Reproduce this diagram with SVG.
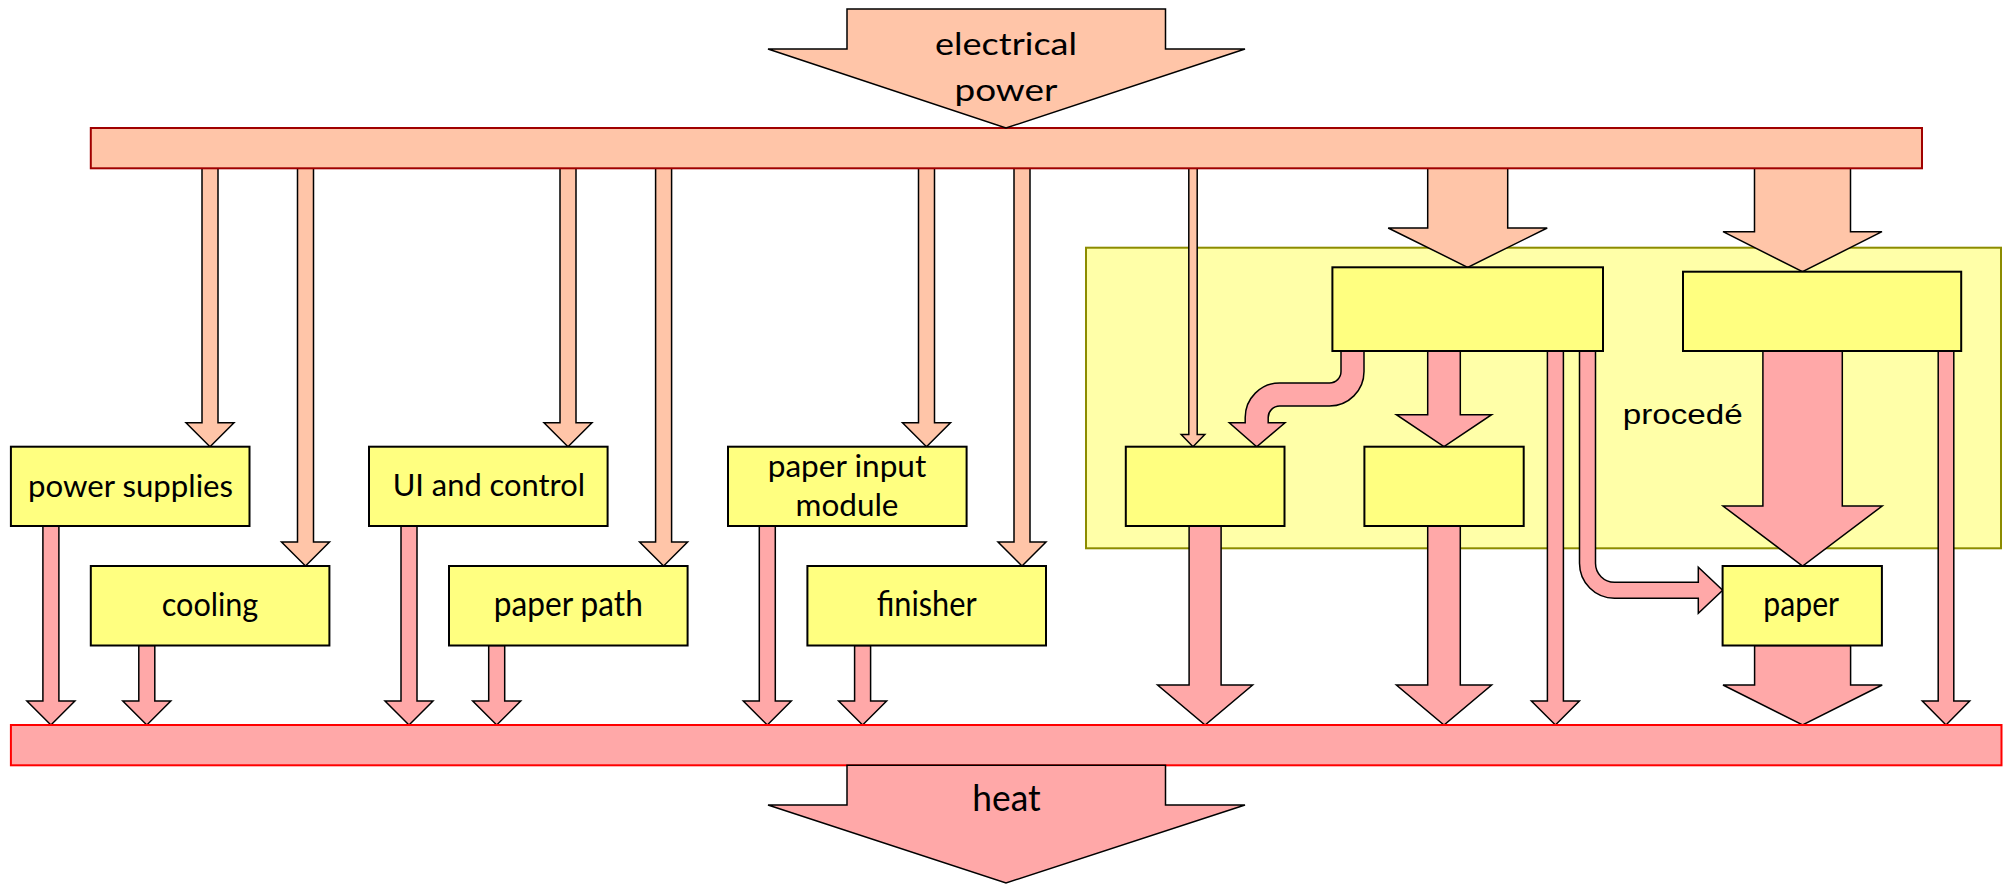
<svg xmlns="http://www.w3.org/2000/svg" width="2006" height="885" viewBox="0 0 2006 885">
<style>
.peach{fill:#FFC5A8;stroke:#000;stroke-width:1.5;stroke-linejoin:miter}
.pink{fill:#FFA8A8;stroke:#000;stroke-width:1.5;stroke-linejoin:miter}
.box{fill:#FFFF80;stroke:#000;stroke-width:2}
.lbl{font-family:Lato,"Open Sans","Liberation Sans",sans-serif;font-size:30px;text-anchor:middle;fill:#000}
.big{font-size:34px}
.lbl2{font-family:"Liberation Sans",Arial,sans-serif;font-size:27.5px;text-anchor:middle;fill:#000}
</style>
<rect width="2006" height="885" fill="#fff"/>
<g id="procede">
<rect x="1086" y="247.7" width="915" height="300.6" fill="#FFFFA8" stroke="#8C8C00" stroke-width="2"/>
<text class="lbl2" x="1682.7" y="424" textLength="120" lengthAdjust="spacingAndGlyphs">procedé</text>
</g>
<g id="connectors">
<polygon class="peach" points="202,168 202,422.7 186,422.7 210,446.7 234,422.7 218,422.7 218,168"/>
<polygon class="peach" points="297.5,168 297.5,542 281.5,542 305.5,566 329.5,542 313.5,542 313.5,168"/>
<polygon class="peach" points="560,168 560,422.7 544,422.7 568,446.7 592,422.7 576,422.7 576,168"/>
<polygon class="peach" points="655.6,168 655.6,542 639.6,542 663.6,566 687.6,542 671.6,542 671.6,168"/>
<polygon class="peach" points="918.5,168 918.5,422.7 902.5,422.7 926.5,446.7 950.5,422.7 934.5,422.7 934.5,168"/>
<polygon class="peach" points="1014,168 1014,542 998,542 1022,566 1046,542 1030,542 1030,168"/>
<polygon class="peach" points="1188.8,168 1188.8,434.5 1181.2,434.5 1193,446.7 1204.8,434.5 1197.2,434.5 1197.2,168"/>
<polygon class="peach" points="1427.7,168 1427.7,228 1388.2,228 1467.7,267.3 1547.2,228 1507.7,228 1507.7,168"/>
<polygon class="peach" points="1754.5,168 1754.5,231.7 1723,231.7 1802.5,271.7 1882,231.7 1850.5,231.7 1850.5,168"/>
<polygon class="pink" points="42.9,526 42.9,701 26.9,701 50.9,725 74.9,701 58.9,701 58.9,526"/>
<polygon class="pink" points="138.8,645.5 138.8,701 122.8,701 146.8,725 170.8,701 154.8,701 154.8,645.5"/>
<polygon class="pink" points="401,526 401,701 385,701 409,725 433,701 417,701 417,526"/>
<polygon class="pink" points="488.7,645.5 488.7,701 472.7,701 496.7,725 520.7,701 504.7,701 504.7,645.5"/>
<polygon class="pink" points="759.3,526 759.3,701 743.3,701 767.3,725 791.3,701 775.3,701 775.3,526"/>
<polygon class="pink" points="854.6,645.5 854.6,701 838.6,701 862.6,725 886.6,701 870.6,701 870.6,645.5"/>
<polygon class="pink" points="1189.1,526 1189.1,685 1157.6,685 1205.1,725 1252.6,685 1221.1,685 1221.1,526"/>
<polygon class="pink" points="1427.7,526 1427.7,685 1396.4,685 1444,725 1491.6,685 1460.3,685 1460.3,526"/>
<polygon class="pink" points="1547.4,351 1547.4,701 1531.4,701 1555.4,725 1579.4,701 1563.4,701 1563.4,351"/>
<polygon class="pink" points="1754.6,645.5 1754.6,685 1723,685 1802.6,725 1882.2,685 1850.6,685 1850.6,645.5"/>
<polygon class="pink" points="1938.2,351 1938.2,701 1922.3,701 1946,725 1969.7,701 1953.8,701 1953.8,351"/>
<polygon class="pink" points="1427.7,351 1427.7,414.7 1396.4,414.7 1444,446.5 1491.6,414.7 1460.3,414.7 1460.3,351"/>
<polygon class="pink" points="1762.9,351 1762.9,506 1723,506 1802.6,566 1882.2,506 1842.3,506 1842.3,351"/>
<path class="pink" d="M1341 351 L1341 371.5 A11.5 11.5 0 0 1 1329.5 383 L1279.7 383 A34.5 34.5 0 0 0 1245.2 417.5 L1245.2 422.7 L1229.3 422.7 L1256.7 446.7 L1285 422.7 L1268.2 422.7 L1268.2 417.5 A11.5 11.5 0 0 1 1279.7 406 L1329.5 406 A34.5 34.5 0 0 0 1364 371.5 L1364 351 Z"/>
<path class="pink" d="M1579.5 351 L1579.5 563.3 A35 35 0 0 0 1614.5 598.3 L1698.3 598.3 L1698.3 613.3 L1722.7 590.3 L1698.3 567.3 L1698.3 582.3 L1614.5 582.3 A19 19 0 0 1 1595.5 563.3 L1595.5 351 Z"/>
</g>
<g id="power-bar">
<rect x="90.8" y="128" width="1831.2" height="40.3" fill="#FFC5A8" stroke="#A00000" stroke-width="2"/>
</g>
<g id="heat-bar">
<rect x="10.9" y="725" width="1990.6" height="40.3" fill="#FFA8A8" stroke="#FF0000" stroke-width="2"/>
</g>
<g id="electrical-power">
<polygon class="peach" points="847,9 1165.5,9 1165.5,49 1245,49 1006,128 768,49 847,49"/>
<text class="lbl" x="1006" y="55" font-size="31" textLength="142" lengthAdjust="spacingAndGlyphs">electrical</text>
<text class="lbl" x="1006" y="101" font-size="31" textLength="103" lengthAdjust="spacingAndGlyphs">power</text>
</g>
<g id="heat">
<polygon class="pink" points="847,765.3 1165.5,765.3 1165.5,805 1245,805 1006,883 768,805 847,805"/>
<text class="lbl" x="1006.5" y="811" style="font-size:36px" textLength="68.4" lengthAdjust="spacingAndGlyphs">heat</text>
</g>
<g id="power-supplies">
<rect class="box" x="10.9" y="446.7" width="238.6" height="79.3"/>
<text class="lbl" x="130.6" y="496.7" textLength="205" lengthAdjust="spacingAndGlyphs">power supplies</text>
</g>
<g id="ui-control">
<rect class="box" x="369" y="446.7" width="238.6" height="79.3"/>
<text class="lbl" x="488.8" y="496.3" textLength="192.3" lengthAdjust="spacingAndGlyphs">UI and control</text>
</g>
<g id="paper-input-module">
<rect class="box" x="728" y="446.7" width="238.6" height="79.3"/>
<text class="lbl" x="847" y="476.7" textLength="158.6" lengthAdjust="spacingAndGlyphs">paper input</text>
<text class="lbl" x="847" y="516" textLength="103" lengthAdjust="spacingAndGlyphs">module</text>
</g>
<g id="cooling">
<rect class="box" x="90.8" y="566" width="238.6" height="79.5"/>
<text class="lbl" x="210" y="616" style="font-size:33px" textLength="96.6" lengthAdjust="spacingAndGlyphs">cooling</text>
</g>
<g id="paper-path">
<rect class="box" x="449" y="566" width="238.6" height="79.5"/>
<text class="lbl big" x="568.3" y="616" textLength="149" lengthAdjust="spacingAndGlyphs">paper path</text>
</g>
<g id="finisher">
<rect class="box" x="807.4" y="566" width="238.6" height="79.5"/>
<text class="lbl" x="926.7" y="616" style="font-size:35px" textLength="100" lengthAdjust="spacingAndGlyphs">finisher</text>
</g>
<g id="box-a">
<rect class="box" x="1332.4" y="267.3" width="270.6" height="83.7"/>
</g>
<g id="box-b">
<rect class="box" x="1683" y="271.7" width="278.2" height="79.3"/>
</g>
<g id="box-c">
<rect class="box" x="1125.8" y="446.7" width="158.7" height="79.3"/>
</g>
<g id="box-d">
<rect class="box" x="1364.4" y="446.7" width="159.3" height="79.3"/>
</g>
<g id="paper">
<rect class="box" x="1722.6" y="566" width="159.3" height="79.5"/>
<text class="lbl" x="1801.2" y="615.5" style="font-size:35px" textLength="75.7" lengthAdjust="spacingAndGlyphs">paper</text>
</g>
</svg>
